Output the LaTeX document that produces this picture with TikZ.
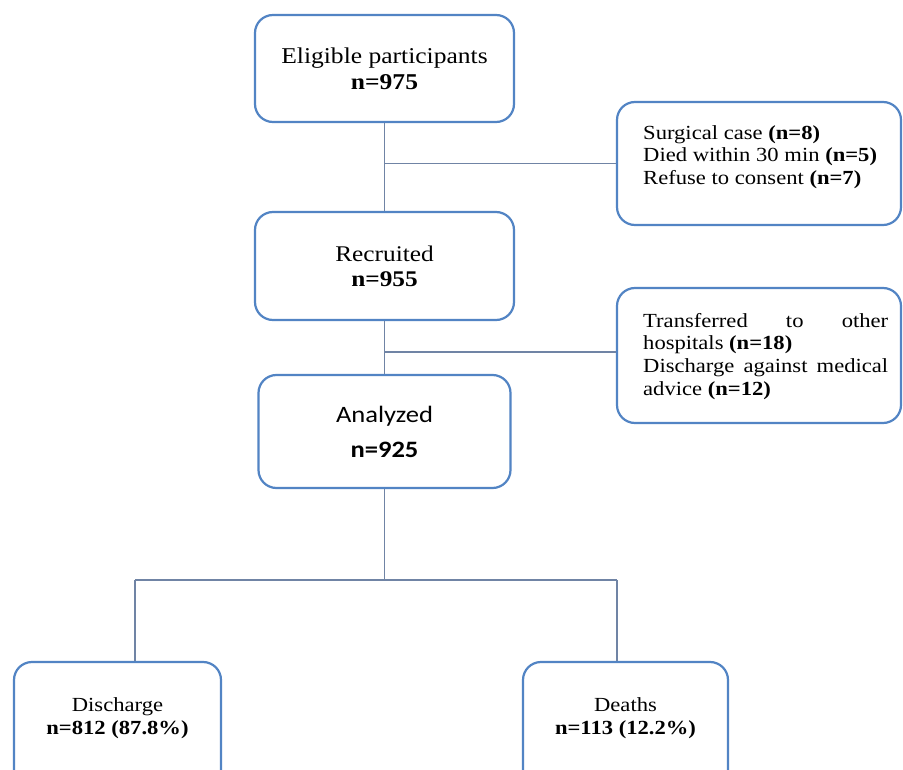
\documentclass[tikz,border=0pt]{standalone}
\usepackage{fontspec}
\setmainfont{Liberation Serif}[FakeStretch=1.13]
\newfontfamily\calib{Carlito}[FakeStretch=1.13]
\definecolor{boxblue}{RGB}{82,132,196}
\definecolor{linecol}{RGB}{112,132,165}
\begin{document}
\begin{tikzpicture}[x=1pt,y=-1pt,
  box/.style={draw=boxblue, line width=2.2pt, rounded corners=18pt, fill=white, inner sep=0pt, align=center},
  txt/.style={inner sep=0pt},
  conn/.style={draw=linecol, line width=1.1pt}]
\useasboundingbox (0,0) rectangle (903,770);
\clip (0,0) rectangle (903,770);
\fill[white] (0,0) rectangle (903,770);

\node[box, minimum width=259, minimum height=107, font=\fontsize{22.6}{26}\selectfont] (elig) at (384.5,68.5) {Eligible participants\\\textbf{n=975}};
\node[box, minimum width=259, minimum height=108, font=\fontsize{22.4}{25}\selectfont] (recr) at (384.5,266) {Recruited\\\textbf{n=955}};
\node[box, minimum width=252, minimum height=113, font=\calib\fontsize{23.5}{35}\selectfont] (ana) at (384.5,431.5) {Analyzed\\\textbf{n=925}};

\node[box, minimum width=284, minimum height=123] (r1) at (759,163.5) {};
\node[txt, anchor=north west, align=left, font=\fontsize{20}{22.5}\selectfont] (r1t) at (643,125) {Surgical case \textbf{(n=8)}\\Died within 30 min \textbf{(n=5)}\\Refuse to consent \textbf{(n=7)}};

\node[box, minimum width=284, minimum height=135] (r2) at (759,355.5) {};
\node[txt, anchor=north west, text width=245, align=justify, font=\fontsize{20}{22.7}\selectfont] (r2t) at (643,313) {Transferred to other\linebreak hospitals \textbf{(n=18)}\\Discharge against medical\linebreak advice \textbf{(n=12)}};

\node[box, minimum width=207, minimum height=128] (dis) at (117.5,726) {};
\node[txt, align=center, font=\fontsize{20}{23}\selectfont] (dist) at (117.5,718.5) {Discharge\\\textbf{n=812 (87.8\%)}};
\node[box, minimum width=205, minimum height=128] (dth) at (625.5,726) {};
\node[txt, align=center, font=\fontsize{20}{23}\selectfont] (dtht) at (625.5,718.5) {Deaths\\\textbf{n=113 (12.2\%)}};

\draw[conn] (elig.south) -- (recr.north);
\draw[conn] (elig.south |- r1.west) -- (r1.west);
\draw[conn] (recr.south) -- (ana.north);
\coordinate (h2) at (384.5,352);
\draw[conn] (h2) -- (h2 -| r2.west);

\coordinate (split) at (384.5,580);
\coordinate (dL) at (135,580);
\coordinate (dR) at (617,580);
\draw[conn] (ana.south) -- (split);
\draw[conn] (dL) -- (dR);
\draw[conn] (dL) -- (dL |- dis.north);
\draw[conn] (dR) -- (dR |- dth.north);
\end{tikzpicture}
\end{document}
